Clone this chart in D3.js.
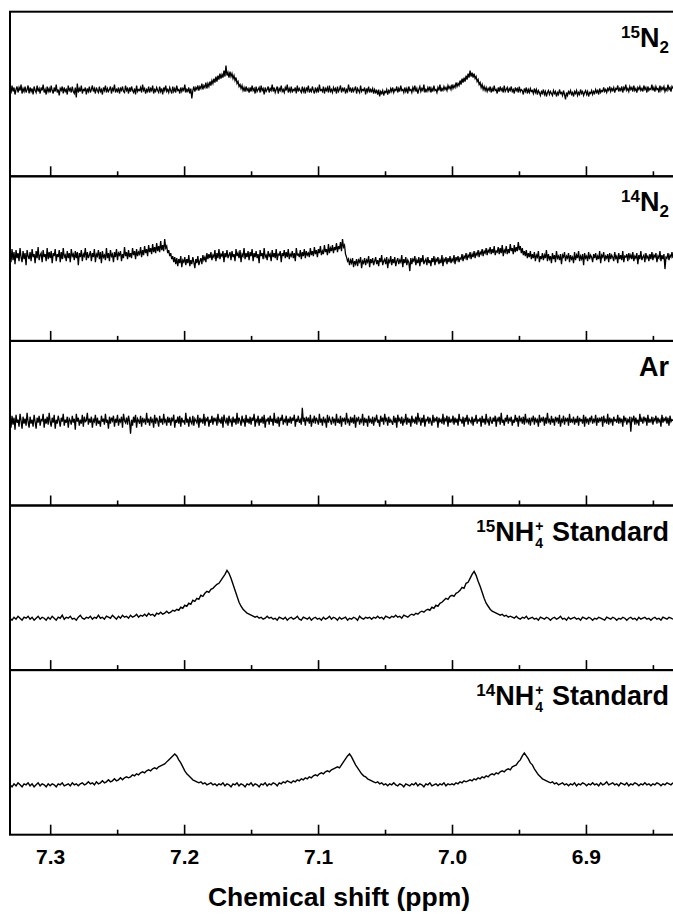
<!DOCTYPE html>
<html>
<head>
<meta charset="utf-8">
<script src="https://cdn.jsdelivr.net/npm/d3@7"></script>
<style>
  body { margin: 0; background: #fff; }
  svg { display: block; }
  text { font-family: "Liberation Sans", Arial, Helvetica, sans-serif; font-weight: bold; fill: #000; }
</style>
</head>
<body>
<svg id="chart" width="673" height="914"></svg>
<script>
// Chemical-shift window (ppm, decreasing to the right)
const shiftStart = 7.330;
const shiftEnd = 6.835;
// Sampling steps: gas-phase runs are recorded on a finer grid than the standards
const gasStep = 0.00075;
const stdStep = 0.0015;

const majorTicks = [7.3, 7.2, 7.1, 7.0, 6.9];
const minorTicks = [7.25, 7.15, 7.05, 6.95, 6.85];
const axisTitle = "Chemical shift (ppm)";

// Intensities (a.u.), one value per grid point
const spec15N2 = [
  88,83,91,85,89,82,87,90,84,89,86,92,83,88,85,90,84,87,91,83,
  89,85,88,82,90,86,84,91,85,88,83,89,86,92,84,87,82,90,85,88,
  84,91,86,83,89,85,92,84,87,81,88,86,90,83,89,85,87,82,91,86,
  88,84,90,85,83,89,79,93,84,88,85,91,83,87,86,89,82,88,85,90,
  84,87,91,85,88,83,89,86,84,90,85,87,82,89,86,91,84,88,85,87,
  90,83,88,86,92,84,87,85,89,83,88,86,90,85,84,91,86,88,83,89,
  85,90,86,84,88,82,91,85,87,86,89,84,92,86,88,83,87,85,90,84,
  88,86,91,83,87,85,89,86,84,90,85,88,82,89,86,91,85,87,84,89,
  86,83,90,85,88,84,91,86,87,83,89,85,88,86,92,84,87,85,89,83,
  88,78,86,90,85,89,87,91,86,90,88,93,87,91,89,94,88,93,90,95,
  91,96,93,98,94,100,95,101,97,103,98,102,99,106,100,111,101,104,99,105,
  100,103,98,101,96,99,93,95,90,92,88,91,86,89,85,90,86,88,84,89,
  85,91,86,88,83,90,85,87,89,84,91,86,88,82,89,85,87,90,84,88,
  86,92,85,89,84,87,90,83,88,86,91,85,87,84,89,86,92,84,88,85,
  90,84,87,86,89,83,91,85,88,86,84,90,85,88,83,89,86,91,84,87,
  85,90,86,83,89,85,88,84,92,86,87,85,90,83,88,86,89,84,91,85,
  87,84,89,86,88,83,90,85,87,91,84,88,86,89,83,87,85,92,86,88,
  84,89,85,87,90,83,88,86,84,91,85,87,86,89,82,88,85,90,84,87,
  85,88,83,87,84,86,82,87,80,85,83,86,81,85,84,87,82,86,84,88,
  85,89,84,87,86,90,84,88,85,91,86,87,84,89,85,88,83,90,86,87,
  84,89,86,91,85,88,83,87,90,85,88,86,92,84,87,85,89,86,90,84,
  88,85,91,86,87,84,89,86,92,85,88,86,90,87,89,86,91,88,90,87,
  92,88,91,89,94,90,93,91,96,92,98,94,99,95,101,97,103,99,106,100,
  104,99,103,98,100,95,97,92,94,89,92,87,90,86,89,85,88,86,90,84,
  88,85,91,86,87,83,89,85,90,86,88,84,91,85,87,89,84,88,86,90,
  85,87,83,89,86,88,84,90,85,87,86,82,88,85,89,83,87,84,88,85,
  86,83,88,84,87,82,86,84,81,85,83,87,82,85,80,84,86,82,85,83,
  81,86,83,85,80,84,82,87,83,84,81,86,82,77,84,81,85,83,86,82,
  84,80,85,83,86,81,84,82,87,83,85,81,84,86,82,85,80,84,83,86,
  82,85,83,87,84,86,82,88,84,86,85,89,85,87,84,88,86,90,85,88,
  86,89,84,88,87,91,85,88,86,90,84,89,87,92,86,88,85,90,87,89,
  85,91,86,88,84,89,87,90,86,88,85,91,87,89,84,90,86,88,87,92,
  86,89,85,90,87,88,84,91,86,89,87,90,85,88,86,92,87,89,85,90,
  88
];
const spec14N2 = [
  86,79,92,81,89,77,91,83,88,80,93,84,79,90,82,88,76,91,85,82,
  89,80,92,84,87,78,90,83,94,81,86,88,79,91,84,87,80,93,82,89,
  83,90,78,88,85,92,80,87,84,91,79,89,82,93,84,86,80,90,83,88,
  79,92,85,87,81,90,83,89,76,88,84,91,80,87,85,93,81,89,83,86,
  90,80,88,84,92,79,87,85,91,82,89,78,90,84,86,81,93,83,88,80,
  91,85,87,79,89,84,92,81,88,86,90,80,87,83,94,85,89,82,91,84,
  88,83,93,86,90,82,92,85,89,87,94,84,91,86,95,88,92,85,96,89,
  93,87,97,89,94,88,98,90,95,89,100,91,96,90,102,93,95,88,91,85,
  88,82,85,79,84,77,83,75,82,78,85,74,81,79,84,76,82,78,86,75,
  81,77,84,79,73,82,78,85,76,80,83,77,86,81,84,79,88,82,87,83,
  89,81,86,84,91,80,88,83,92,82,87,85,90,79,88,84,91,83,86,89,
  81,90,84,87,80,92,85,88,83,91,79,87,85,93,82,88,84,90,81,89,
  85,92,80,88,84,90,83,87,78,91,85,88,82,93,84,86,81,90,85,87,
  80,91,84,88,83,92,81,87,86,90,79,88,85,91,83,89,84,92,82,87,
  85,90,83,88,80,93,86,87,84,91,82,89,85,92,83,90,86,88,84,93,
  86,90,85,94,87,91,84,92,88,95,86,90,87,96,89,92,86,97,88,93,
  90,96,88,94,91,98,89,95,92,99,90,102,94,96,87,84,80,82,76,81,
  78,83,74,80,77,82,75,81,79,84,73,80,78,83,76,81,79,85,74,82,
  78,83,76,80,84,77,81,75,83,79,86,76,80,82,77,84,73,81,79,85,
  76,82,78,84,75,80,83,77,81,79,86,74,82,78,84,76,81,79,70,83,
  77,82,80,85,76,81,78,84,75,83,79,86,77,80,82,76,84,78,81,75,
  83,79,85,76,82,80,84,77,81,78,86,75,82,80,84,77,83,79,85,78,
  82,80,86,77,84,81,85,79,83,82,87,80,85,83,88,81,86,84,89,82,
  87,84,90,83,88,86,91,84,89,87,92,85,90,88,93,86,91,89,94,87,
  92,88,95,86,90,89,94,87,93,88,96,85,91,89,95,87,92,88,97,90,
  93,87,96,89,94,90,99,91,95,88,93,86,90,85,91,83,88,84,90,82,
  87,83,89,80,86,84,90,79,85,82,88,81,86,83,91,80,87,82,85,78,
  88,82,86,79,90,83,85,81,87,77,86,84,89,80,85,83,88,79,86,82,
  84,78,89,81,86,83,90,80,85,82,87,76,88,83,85,80,89,82,86,84,
  79,87,83,88,81,85,82,90,78,86,84,89,80,85,83,87,79,88,82,86,
  84,80,89,83,85,78,88,82,86,81,90,79,85,84,87,80,88,83,86,82,
  89,80,85,83,88,77,86,82,90,81,84,86,79,88,83,85,80,87,82,89,
  81,86,84,88,79,85,83,90,80,86,82,87,72,84,83,88,81,86,84,89,
  83
];
const specAr = [
  84,78,90,81,88,76,91,83,86,79,92,85,77,89,82,87,80,93,84,78,
  89,82,86,79,91,84,77,88,83,90,80,86,85,92,78,87,82,89,81,93,
  84,79,88,83,91,77,86,82,90,85,79,88,84,92,80,86,83,89,78,87,
  85,81,90,83,87,76,92,84,88,80,86,82,91,79,89,84,85,93,81,87,
  83,89,78,86,84,91,80,88,82,85,79,90,84,87,81,92,83,86,77,89,
  82,88,85,90,79,87,83,91,80,86,84,89,78,92,85,83,88,81,90,84,
  72,86,80,89,83,91,78,87,85,82,90,79,88,84,86,81,93,83,87,80,
  89,84,86,78,91,82,88,85,79,90,83,87,81,92,84,86,80,89,83,88,
  80,87,85,91,78,86,83,89,82,90,79,88,84,85,81,93,83,87,79,89,
  84,82,90,80,87,85,83,91,78,88,84,86,82,92,80,87,85,89,79,86,
  83,90,81,88,85,87,80,92,84,86,82,89,78,91,85,83,88,80,90,84,
  86,79,89,83,87,81,93,82,88,85,80,90,84,86,79,91,83,87,82,89,
  81,88,85,92,79,86,84,90,80,87,83,89,82,91,78,86,85,88,81,90,
  84,87,80,93,83,86,82,89,79,88,85,91,81,86,84,90,80,87,83,89,
  82,88,85,91,79,87,84,90,83,86,81,98,84,88,80,89,85,87,82,91,
  79,86,84,90,82,88,85,81,92,83,87,80,89,84,86,78,91,83,88,85,
  81,89,84,87,80,92,83,86,82,90,79,88,85,87,81,93,84,86,80,89,
  83,88,82,91,78,87,85,89,81,86,84,92,80,88,83,87,79,90,84,86,
  82,89,80,87,85,91,83,86,79,90,84,88,81,92,85,87,80,89,83,86,
  84,81,90,83,88,78,91,85,87,82,89,80,86,84,92,81,88,83,87,79,
  90,84,86,82,89,81,93,85,87,80,88,83,91,79,86,85,89,82,88,84,
  80,91,83,87,85,89,78,88,84,86,82,92,81,87,85,90,79,89,83,86,
  84,90,81,88,83,87,80,92,85,86,82,89,79,88,84,91,81,87,85,83,
  89,80,87,84,91,82,86,85,88,79,90,83,87,81,92,84,86,80,89,85,
  82,88,84,90,79,87,85,89,81,93,83,86,80,88,84,91,82,87,85,89,
  80,86,83,91,84,88,79,90,85,87,82,89,81,92,84,86,83,88,80,87,
  85,90,81,88,84,86,79,91,83,87,85,89,80,88,82,93,84,86,81,90,
  83,87,80,89,85,88,82,91,79,86,84,90,81,87,85,88,80,92,83,86,
  84,89,81,87,83,90,80,88,85,86,82,91,79,89,84,87,81,88,85,90,
  82,86,84,91,80,88,83,87,85,89,79,90,84,86,82,92,81,88,84,87,
  80,89,85,86,83,91,82,88,84,87,79,90,85,88,81,86,84,89,74,87,
  85,90,81,88,83,86,80,92,84,87,82,89,85,88,80,91,83,86,84,89,
  81,87,85,90,82,88,84,86,79,91,83,87,85,89,82,88,80,90,84,86,
  85
];
const spec15NH4 = [
  52,50,53,51,54,52,50,53,52,54,51,53,50,52,54,51,53,52,50,53,
  51,54,52,50,53,52,55,51,53,52,54,51,52,50,53,55,52,51,53,52,
  54,51,53,52,55,52,53,51,54,53,52,55,53,51,54,52,55,53,54,52,
  55,53,54,56,53,55,54,56,54,57,55,56,54,57,56,58,56,57,59,57,
  58,60,59,61,60,63,62,65,64,67,66,70,69,72,71,75,74,77,79,78,
  81,82,84,86,87,90,93,96,100,97,92,86,80,74,68,64,61,59,57,56,
  55,54,53,54,52,53,51,52,54,52,53,51,52,50,53,52,51,53,50,52,
  53,51,52,54,51,50,53,52,51,53,50,52,53,51,52,50,53,51,52,54,
  51,53,52,50,53,51,52,53,50,52,51,53,52,50,54,52,51,53,52,53,
  51,53,52,54,52,53,51,54,53,52,54,53,55,53,54,52,55,54,53,55,
  56,55,57,56,58,59,58,60,61,60,63,62,65,64,67,68,70,72,71,74,
  75,74,77,78,80,83,82,87,88,92,96,99,95,89,84,78,72,67,64,61,
  59,58,57,56,55,56,54,55,53,54,53,52,54,52,51,53,52,54,51,52,
  53,51,52,50,53,52,51,53,52,50,52,53,51,52,54,51,52,50,53,51,
  52,53,51,52,50,53,52,51,53,52,50,52,51,53,52,51,50,53,52,51,
  53,52,50,52,51,53,52,50,52,53,51,52,50,53,51,52,53,51,52,50,
  52,53,51,52,50,53,52,51,53,52,51
];
const spec14NH4 = [
  50,48,51,49,52,50,48,51,50,52,49,51,48,50,52,49,51,50,48,51,
  49,51,50,48,51,50,52,49,50,51,49,52,50,51,49,51,52,50,51,53,
  51,52,50,53,51,52,54,52,53,55,53,54,56,54,55,57,55,57,58,57,
  58,60,59,61,60,62,63,62,64,65,64,66,67,66,68,69,70,71,73,75,
  77,79,81,79,75,72,68,64,61,59,57,55,54,53,52,53,51,52,50,51,
  52,50,51,49,51,50,52,49,51,50,48,51,50,52,49,51,50,48,51,50,
  52,49,51,50,48,51,50,52,49,51,50,52,51,49,52,51,53,52,54,53,
  52,54,53,55,54,56,55,57,56,58,57,59,60,59,61,62,61,63,64,63,
  65,66,67,68,67,70,73,76,79,81,78,74,70,67,64,61,59,58,56,55,
  54,53,52,53,51,52,50,51,49,51,50,52,50,49,51,50,48,51,50,49,
  51,50,52,49,51,50,48,51,50,52,49,50,51,49,51,50,52,49,51,50,
  51,50,52,51,53,52,54,53,54,55,54,56,55,57,56,58,57,59,58,60,
  61,60,62,61,63,64,63,65,66,65,68,69,70,73,75,79,82,79,76,72,
  70,66,63,60,58,56,55,54,53,52,53,51,52,50,51,52,50,51,49,51,
  50,52,49,51,50,52,51,49,51,50,52,50,51,49,52,50,51,53,50,51,
  52,50,51,49,52,51,50,52,49,51,50,52,51,49,51,50,52,50,51,49,
  51,50,52,51,49,51,50,52,51,50,52
];

// Panel labels: pieces are [text, role]; "stack" sets a superscript over a subscript
const label15N2 = [["15", "sup"], ["N", "main"], ["2", "sub"]];
const label14N2 = [["14", "sup"], ["N", "main"], ["2", "sub"]];
const labelAr = [["Ar", "main"]];
const label15NH4 = [["15", "sup"], ["NH", "main"], ["+|4", "stack"], ["\u00a0Standard", "main"]];
const label14NH4 = [["14", "sup"], ["NH", "main"], ["+|4", "stack"], ["\u00a0Standard", "main"]];

const panels = [
  { values: spec15N2, step: gasStep, label: label15N2, width: 1.3 },
  { values: spec14N2, step: gasStep, label: label14N2, width: 1.3 },
  { values: specAr, step: gasStep, label: labelAr, width: 1.3 },
  { values: spec15NH4, step: stdStep, label: label15NH4, width: 1.4 },
  { values: spec14NH4, step: stdStep, label: label14NH4, width: 1.4 }
];

// Layout
const left = 10, right = 673;
const top0 = 11.7, panelH = 164.6;
const mainSize = 27, smallSize = 17, stackSize = 14;

const svg = d3.select("#chart");

const x = d3.scaleLinear().domain([shiftStart, shiftEnd]).range([left, right]);

panels.forEach((p, k) => {
  const yTop = top0 + k * panelH;
  const yBot = yTop + panelH;
  const y = d3.scaleLinear().domain([0, 165]).range([yBot, yTop]);
  const g = svg.append("g");

  const line = d3.line()
    .x((d, i) => x(shiftStart - i * p.step))
    .y(d => y(d));

  g.append("path")
    .datum(p.values)
    .attr("fill", "none")
    .attr("stroke", "#000")
    .attr("stroke-width", p.width)
    .attr("stroke-linejoin", "miter")
    .attr("d", line);

  // inward ticks along the bottom edge of each panel
  const isLast = k === panels.length - 1;
  const major = d3.axisBottom(x)
    .tickValues(majorTicks)
    .tickSizeInner(-10)
    .tickSizeOuter(0)
    .tickPadding(14)
    .tickFormat(isLast ? d3.format(".1f") : () => "");
  const ax = g.append("g").attr("transform", `translate(0,${yBot})`).call(major);
  ax.select(".domain").remove();
  ax.selectAll(".tick line").attr("stroke", "#000").attr("stroke-width", 1.6);
  ax.selectAll(".tick text")
    .style("font-size", "21px")
    .style("font-family", '"Liberation Sans", Arial, sans-serif')
    .style("font-weight", "bold")
    .attr("fill", "#000");

  const minor = d3.axisBottom(x)
    .tickValues(minorTicks)
    .tickSizeInner(-5)
    .tickSizeOuter(0)
    .tickFormat(() => "");
  const axm = g.append("g").attr("transform", `translate(0,${yBot})`).call(minor);
  axm.select(".domain").remove();
  axm.selectAll(".tick line").attr("stroke", "#000").attr("stroke-width", 1.6);

  // panel frame
  g.append("rect")
    .attr("x", left).attr("y", yTop)
    .attr("width", right - left + 10).attr("height", panelH)
    .attr("fill", "none").attr("stroke", "#000").attr("stroke-width", 2);

  // panel label, composed piece by piece and right-aligned
  const lab = g.append("g");
  const base = yTop + 35;
  let cx = 0;
  p.label.forEach(([txt, role]) => {
    if (role === "stack") {
      const [sp, sb] = txt.split("|");
      const t1 = lab.append("text").attr("x", cx + 1).attr("y", base - 10)
        .style("font-size", stackSize + "px").text(sp);
      const t2 = lab.append("text").attr("x", cx + 1).attr("y", base + 7)
        .style("font-size", stackSize + "px").text(sb);
      cx += 2 + Math.max(t1.node().getComputedTextLength(), t2.node().getComputedTextLength());
    } else {
      const size = role === "main" ? mainSize : smallSize;
      const dy = role === "sup" ? -9 : role === "sub" ? 6 : 0;
      const t = lab.append("text").attr("x", cx).attr("y", base + dy)
        .style("font-size", size + "px").text(txt);
      cx += t.node().getComputedTextLength();
    }
  });
  lab.attr("transform", `translate(${669 - cx},0)`);
});

// axis title
svg.append("text")
  .attr("x", 339).attr("y", 906)
  .attr("text-anchor", "middle")
  .style("font-size", "26.5px")
  .text(axisTitle);
</script>
</body>
</html>
